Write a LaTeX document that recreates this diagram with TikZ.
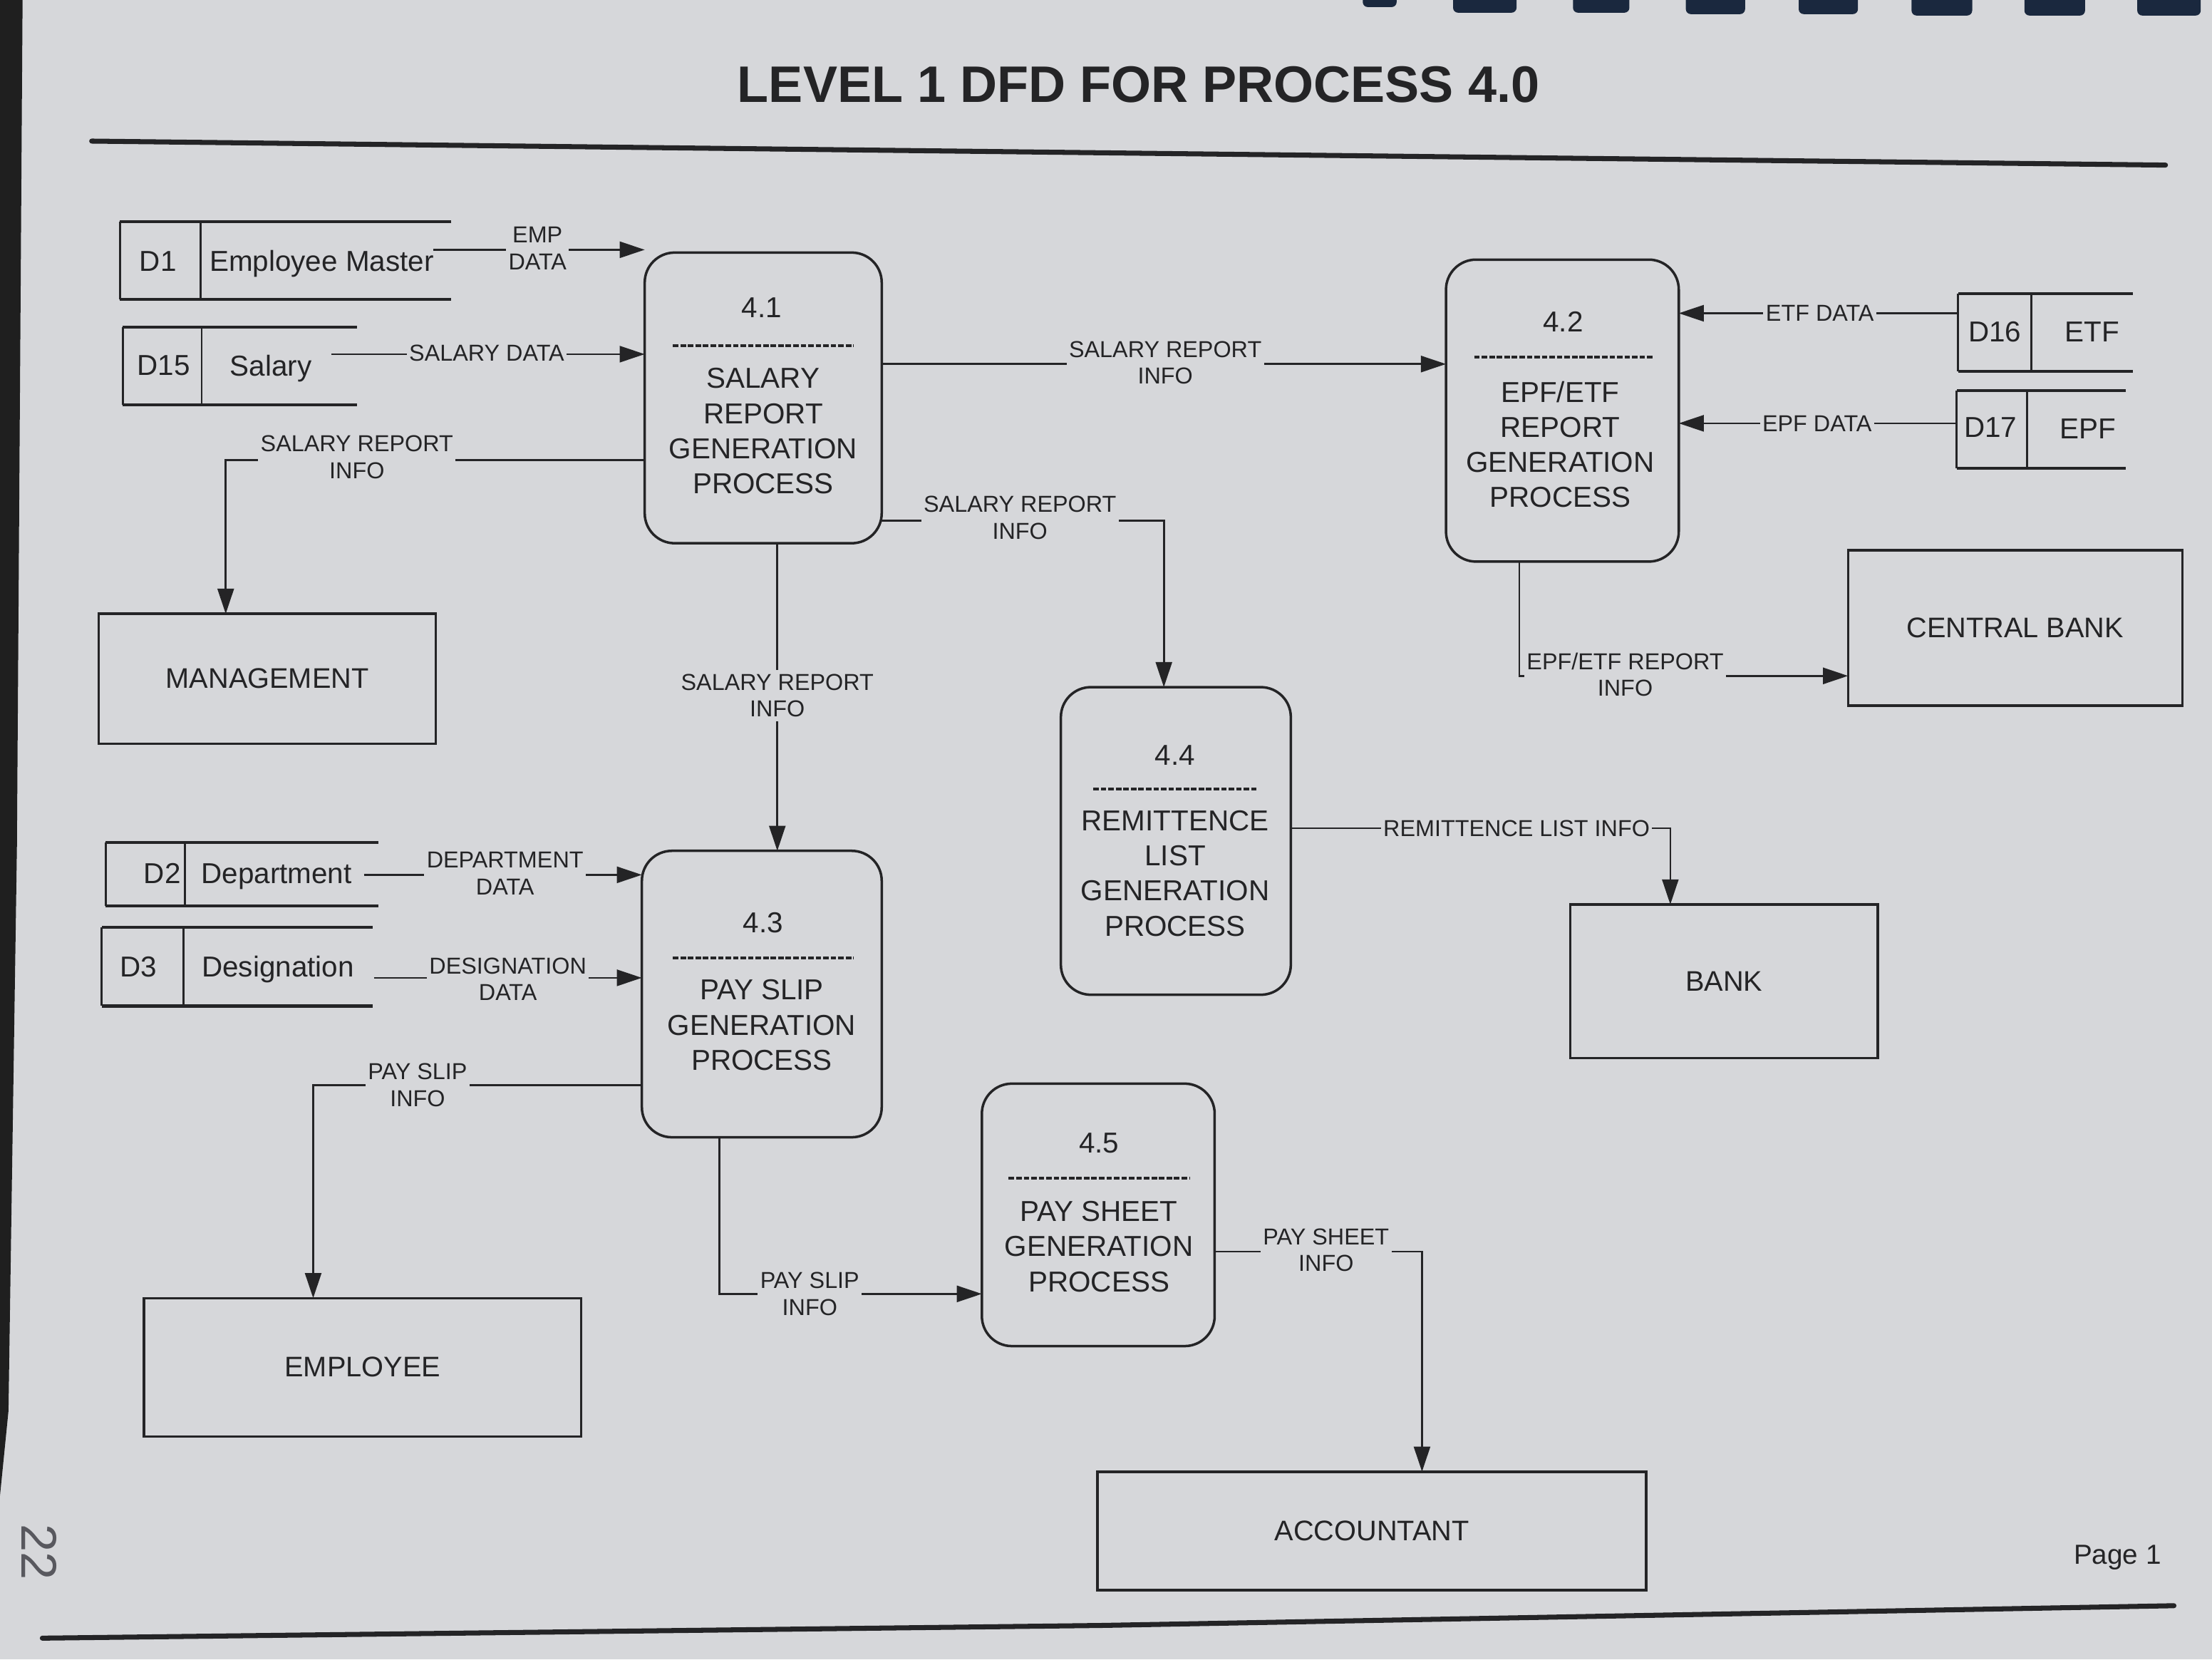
\documentclass[tikz,border=0pt]{standalone}
\usepackage{fontspec}
\setmainfont{Liberation Sans}
\usetikzlibrary{arrows.meta,calc}
\definecolor{paper}{RGB}{214,215,218}
\definecolor{ink}{RGB}{36,36,38}
\definecolor{spiral}{RGB}{26,40,62}
\definecolor{pencil}{RGB}{88,88,94}
\begin{document}
\begin{tikzpicture}[x=0.019796cm,y=-0.019796cm,
  every node/.style={text=ink,inner sep=0pt,outer sep=0pt},
  sz/.style 2 args={minimum width=#1*0.019796cm,minimum height=#2*0.019796cm},
  proc/.style={draw=ink,line width=1pt,rounded corners=0.42cm},
  ent/.style={draw=ink,line width=1pt,font=\fontsize{11.3}{13}\selectfont},
  stline/.style={draw=ink,line width=1.2pt},
  stdiv/.style={draw=ink,line width=0.8pt},
  sttext/.style={font=\fontsize{11.5}{13}\selectfont,text depth=0pt},
  ptext/.style={font=\fontsize{11.5}{14}\selectfont,align=center},
  pnum/.style={font=\fontsize{11.5}{14}\selectfont},
  pdash/.style={draw=ink,line width=1.2pt,dash pattern=on 2.2pt off 0.8pt},
  flow/.style={draw=ink,line width=0.75pt,-{Triangle[length=10pt,width=6.5pt]}},
  lbl/.style={font=\fontsize{9.2}{10.7}\selectfont,align=center,fill=paper,inner xsep=1pt,inner ysep=1.5pt},
  rule/.style={draw=ink,line width=2pt,line cap=round}
]
% page
\fill[paper] (0,0) rectangle (1568,1176);
\useasboundingbox (0,0) rectangle (1568,1176);
\fill[black!88] (0,0) -- (16,0) -- (12,600) -- (6,1000) -- (0,1060) -- cycle;
\foreach \a/\b/\h in {966/990/5,1030/1075/9,1115/1155/9,1195/1237/10,1275/1317/10,1355/1398/11,1435/1478/11,1515/1560/11}
  \fill[spiral,rounded corners=2pt] (\a,-6) rectangle (\b,\h);

% title and rules
\node[font=\bfseries\fontsize{20.5}{24}\selectfont] (title) at (807,60) {LEVEL 1 DFD FOR PROCESS 4.0};
\draw[rule] (65,100) -- (1535,117);
\draw[rule] (30,1161) -- (780,1152) -- (1541,1138);
\node[font=\fontsize{11}{13}\selectfont] (page) at (1501,1104) {Page 1};
\node[rotate=-90,text=pencil,font=\fontsize{20}{22}\selectfont] (hand) at (28,1100) {22};

% processes
\node[proc,sz={168}{206}] (p41) at (541,282) {};
\node[pnum] at (540,218) {4.1};
\draw[pdash] (477,245) -- (605,245);
\node[ptext] at (541,305.5) {SALARY\\REPORT\\GENERATION\\PROCESS};

\node[proc,sz={165}{214}] (p42) at (1107.5,291) {};
\node[pnum] at (1108,228) {4.2};
\draw[pdash] (1045,253) -- (1172,253);
\node[ptext] at (1106,315) {EPF/ETF\\REPORT\\GENERATION\\PROCESS};

\node[proc,sz={170}{203}] (p43) at (540,704.5) {};
\node[pnum] at (541,654) {4.3};
\draw[pdash] (477,679) -- (605,679);
\node[ptext] at (540,726.5) {PAY SLIP\\GENERATION\\PROCESS};

\node[proc,sz={163}{218}] (p44) at (833.5,596) {};
\node[pnum] at (833,535) {4.4};
\draw[pdash] (775,559) -- (892,559);
\node[ptext] at (833,619) {REMITTENCE\\LIST\\GENERATION\\PROCESS};

\node[proc,sz={165}{186}] (p45) at (778.5,861) {};
\node[pnum] at (779,810) {4.5};
\draw[pdash] (715,835) -- (843,835);
\node[ptext] at (779,883.5) {PAY SHEET\\GENERATION\\PROCESS};

% external entities
\node[ent,sz={239}{92}] (mgmt) at (189.5,481) {MANAGEMENT};
\node[ent,sz={237}{110}] (cbank) at (1428.5,445) {CENTRAL BANK};
\node[ent,sz={218}{109}] (bank) at (1222,695.5) {BANK};
\node[ent,sz={310}{98}] (emp) at (257,969) {EMPLOYEE};
\node[ent,sz={389}{84}] (acct) at (972.5,1085) {ACCOUNTANT};

% data stores
\foreach \n/\cx/\cy/\w/\h/\dv in {d1/202.5/184.5/235/55/57, d15/170/259.5/166/55/56, d2/171.5/619.5/193/45/56, d3/168/685/192/56/58, d16/1450/235.5/124/55/52, d17/1447/304.5/120/55/50}{
  \node[sz={\w}{\h}] (\n) at (\cx,\cy) {};
  \draw[stline] (\n.north east) -- (\n.north west) (\n.south west) -- (\n.south east);
  \draw[stdiv] (\n.north west) -- (\n.south west);
  \draw[stdiv] ($(\n.north west)+(\dv,0)$) -- ($(\n.south west)+(\dv,0)$);
}
\node[sttext] (d1id) at (112,185) {D1};
\node[sttext] (d1nm) at (228,185) {Employee Master};
\node[sttext] (d15id) at (116,259) {D15};
\node[sttext] (d15nm) at (192,259) {Salary};
\node[sttext] (d2id) at (115,619) {D2};
\node[sttext] (d2nm) at (196,619) {Department};
\node[sttext] (d3id) at (98,685) {D3};
\node[sttext] (d3nm) at (197,685) {Designation};
\node[sttext] (d16id) at (1414,235) {D16};
\node[sttext] (d16nm) at (1483,235) {ETF};
\node[sttext] (d17id) at (1411,303) {D17};
\node[sttext] (d17nm) at (1480,304) {EPF};

% flow anchor coordinates
\coordinate (e1) at (307,177);
\coordinate (e2) at (235,251);
\coordinate (m1) at (160,326);
\coordinate (v1) at (551,400);
\coordinate (h1) at (800,258);
\coordinate (c44) at (825,369);
\coordinate (et) at (1300,222);
\coordinate (ep) at (1300,300);
\coordinate (c2) at (1077,479);
\coordinate (c3) at (1184,587);
\coordinate (e3) at (258,620);
\coordinate (e4) at (265,693);
\coordinate (c4) at (222,769);
\coordinate (c5) at (510,917);
\coordinate (c6) at (1008,887);

% flows
\draw[flow] (e1) -- (e1 -| p41.west);
\draw[flow] (e2) -- (e2 -| p41.west);
\draw[flow] (m1 -| p41.west) -- (m1) -- (m1 |- mgmt.north);
\draw[flow] (v1 |- p41.south) -- (v1 |- p43.north);
\draw[flow] (h1 -| p41.east) -- (h1 -| p42.west);
\draw[flow] (c44 -| p41.east) -- (c44) -- (c44 |- p44.north);
\draw[flow] (et -| d16.west) -- (et -| p42.east);
\draw[flow] (ep -| d17.west) -- (ep -| p42.east);
\draw[flow] (c2 |- p42.south) -- (c2) -- (c2 -| cbank.west);
\draw[flow] (c3 -| p44.east) -- (c3) -- (c3 |- bank.north);
\draw[flow] (e3) -- (e3 -| p43.west);
\draw[flow] (e4) -- (e4 -| p43.west);
\draw[flow] (c4 -| p43.west) -- (c4) -- (c4 |- emp.north);
\draw[flow] (c5 |- p43.south) -- (c5) -- (c5 -| p45.west);
\draw[flow] (c6 -| p45.east) -- (c6) -- (c6 |- acct.north);

% flow labels
\node[lbl] (l1) at (381,176) {EMP\\DATA};
\node[lbl] (l2) at (345,250) {SALARY DATA};
\node[lbl] (l3) at (253,324) {SALARY REPORT\\INFO};
\node[lbl] (l4) at (551,493) {SALARY REPORT\\INFO};
\node[lbl] (l5) at (826,257) {SALARY REPORT\\INFO};
\node[lbl] (l6) at (723,367) {SALARY REPORT\\INFO};
\node[lbl] (l7) at (1290,222) {ETF DATA};
\node[lbl] (l8) at (1288,300) {EPF DATA};
\node[lbl] (l9) at (1152,478) {EPF/ETF REPORT\\INFO};
\node[lbl] (l10) at (1075,587) {REMITTENCE LIST INFO};
\node[lbl] (l11) at (358,619) {DEPARTMENT\\DATA};
\node[lbl] (l12) at (360,694) {DESIGNATION\\DATA};
\node[lbl] (l13) at (296,769) {PAY SLIP\\INFO};
\node[lbl] (l14) at (574,917) {PAY SLIP\\INFO};
\node[lbl] (l15) at (940,886) {PAY SHEET\\INFO};
\end{tikzpicture}
\end{document}
